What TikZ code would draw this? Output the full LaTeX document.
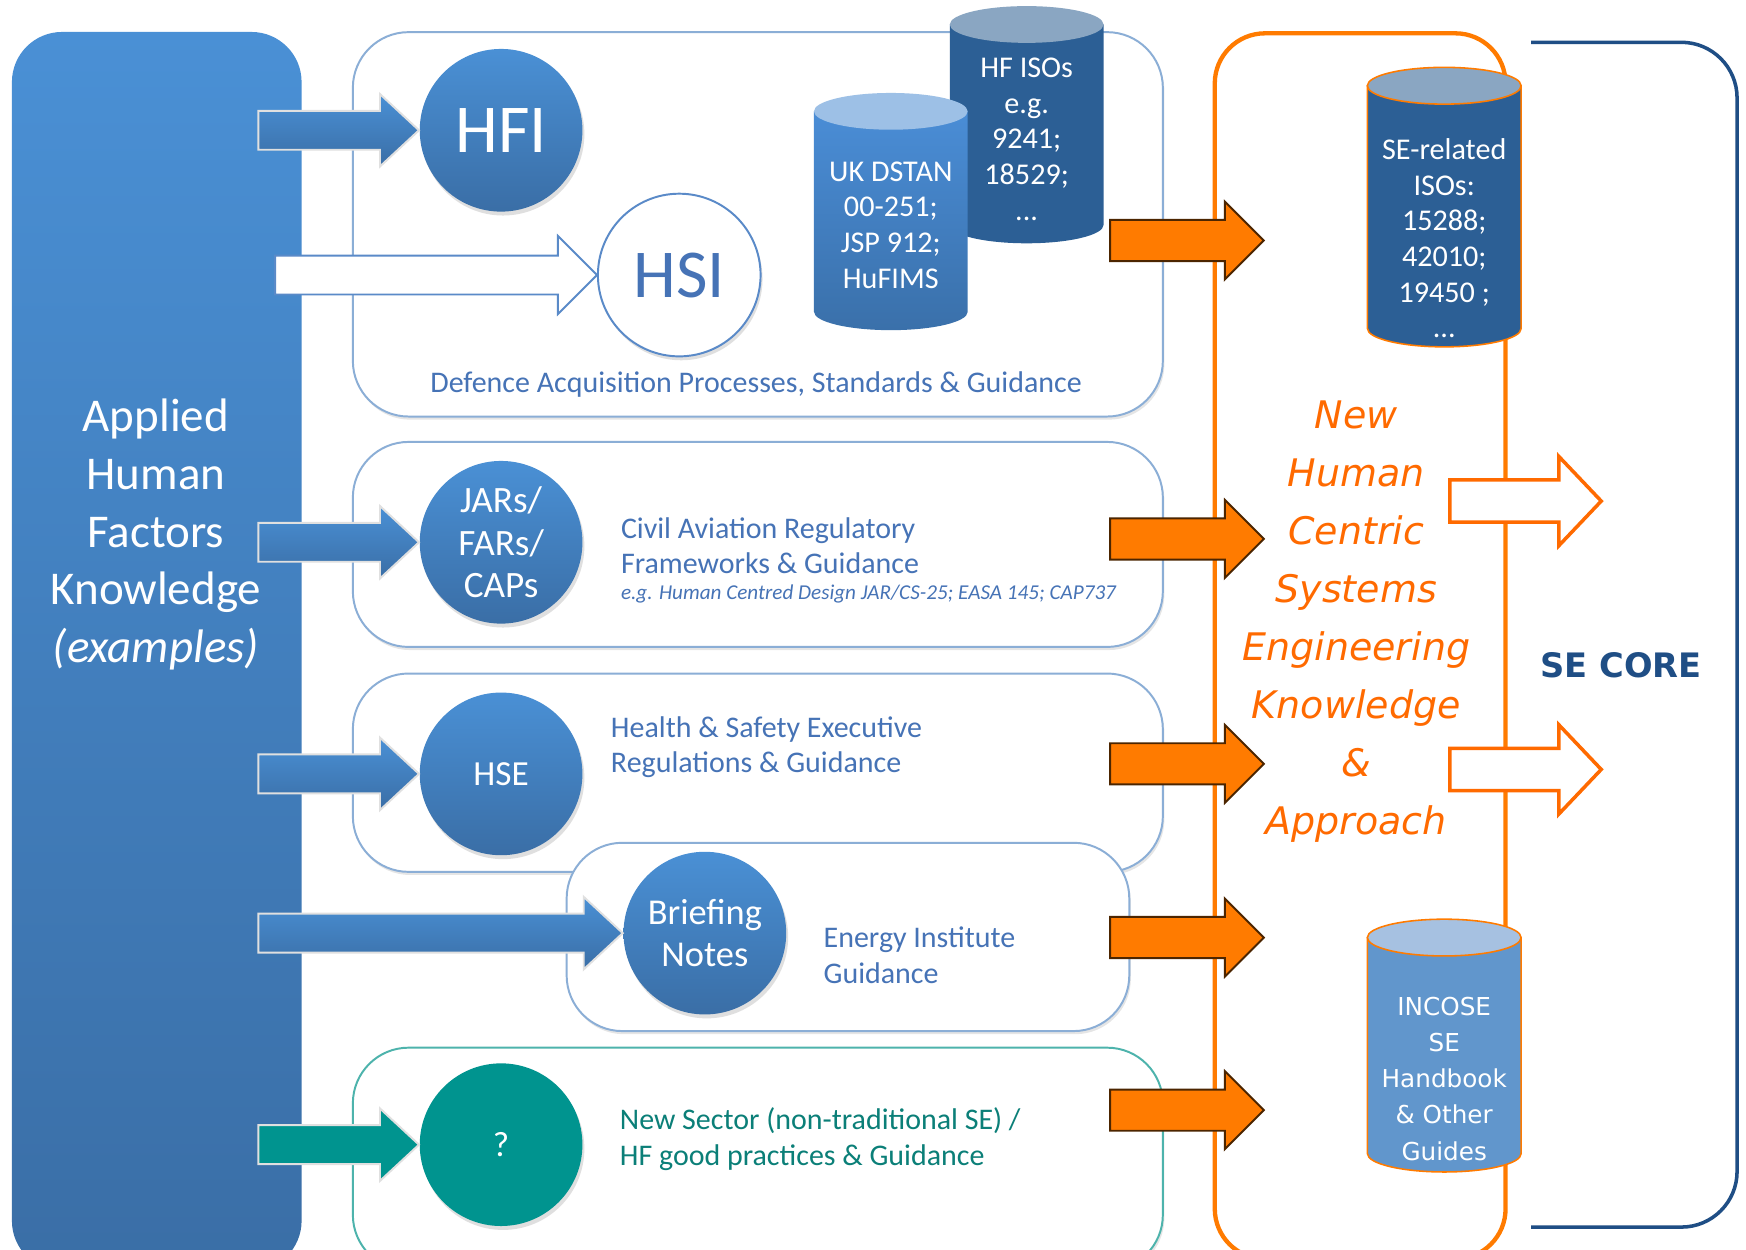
\documentclass[tikz,border=0pt]{standalone}
\usepackage{fontspec}
\setmainfont{Carlito}
\newfontfamily\verdfont[ItalicFont={DejaVu Sans Oblique},BoldFont={DejaVu Sans Bold}]{DejaVu Sans}
\usepackage{xcolor}
\usepackage{tikz}
\usetikzlibrary{calc}
\usetikzlibrary{shadows}

\definecolor{hfblue}{HTML}{4A90D5}
\definecolor{hfblued}{HTML}{3A6EA6}
\definecolor{labelblue}{HTML}{4673B6}
\definecolor{panelline}{HTML}{8BAED6}
\definecolor{hsiline}{HTML}{5A8AC8}
\definecolor{tealfill}{HTML}{00948F}
\definecolor{tealtext}{HTML}{0B7F78}
\definecolor{tealline}{HTML}{4DB3AC}
\definecolor{orfill}{HTML}{FF7B00}
\definecolor{ortext}{HTML}{FF6A00}
\definecolor{navy}{HTML}{1F4E85}
\definecolor{drumdark}{HTML}{2C5F95}
\definecolor{drumlid}{HTML}{8AA6C2}
\definecolor{drummid}{HTML}{4A8DD6}
\definecolor{drummidd}{HTML}{3A70AA}
\definecolor{drummidlid}{HTML}{9DC0E6}
\definecolor{drumlight}{HTML}{6196CC}
\definecolor{drumlightlid}{HTML}{A6C1E1}

% block arrow: style, tail, tip, half shaft, half head, head length
\newcommand{\blockarrow}[6]{%
  \path[#1] ($(#2|-#3)+(0,-#4)$) -- ($(#3)+(-#6,-#4)$) -- ($(#3)+(-#6,-#5)$) -- (#3)
    -- ($(#3)+(-#6,#5)$) -- ($(#3)+(-#6,#4)$) -- ($(#2|-#3)+(0,#4)$) -- cycle;}

% drum: x, top y, bottom y, body style, lid colour, border
\newcommand{\drum}[6]{%
  \path[#4, draw=#6, line width=0.4pt] (#1-69,#2) -- (#1-69,#3)
    arc[start angle=180, end angle=360, x radius=0.69cm, y radius=0.165cm] -- (#1+69,#2) -- cycle;
  \path[fill=#5, draw=#6, line width=0.4pt] (#1,#2) ellipse[x radius=0.69cm, y radius=0.165cm];}

\begin{document}
\begin{tikzpicture}[x=0.01cm, y=-0.01cm,
    panel/.style={rectangle, rounded corners=0.5cm, draw=panelline, line width=0.5pt, fill=white,
      drop shadow={shadow xshift=0.4pt, shadow yshift=-0.8pt, opacity=0.2}},
    bub/.style={circle, minimum size=1.46cm, inner sep=0pt, align=center, text=white,
      top color=hfblue, bottom color=hfblued,
      drop shadow={shadow xshift=0.5pt, shadow yshift=-1pt, opacity=0.25}},
    barrow/.style={top color=hfblue, bottom color=hfblued, draw=black!12, line width=0.5pt},
    oarrow/.style={fill=orfill, draw=black!70!orfill, line width=0.5pt},
    warrow/.style={fill=white, draw=ortext, line width=0.9pt},
    lbl/.style={text=labelblue, align=left, inner sep=0pt, font=\fontsize{7.65}{9.1}\selectfont},
    drumtext/.style={text=white, align=center, inner sep=0pt, font=\fontsize{7.7}{9.1}\selectfont}]

		\useasboundingbox (0,0) rectangle (1568,1122);
		\clip (0,0) rectangle (1568,1122);
		\fill[white] (0,0) rectangle (1568,1122);

		%knowledge column
		\node [rectangle, rounded corners=0.45cm, minimum width=2.6cm, minimum height=11.12cm, anchor=north west,
			top color=hfblue, bottom color=hfblued] (hfbox) at (10,28) {};

		%panels
		\node [panel, anchor=north west, minimum width=7.27cm, minimum height=3.45cm] (pdef) at (316,28) {};
		\node [panel, anchor=north west, minimum width=7.27cm, minimum height=1.84cm] (pciv) at (316,396) {};
		\node [panel, anchor=north west, minimum width=7.27cm, minimum height=1.78cm] (phse) at (316,604) {};
		\node [panel, anchor=north west, minimum width=5.05cm, minimum height=1.69cm] (pnrg) at (508,756) {};
		\node [panel, draw=tealline, anchor=north west, minimum width=7.27cm, minimum height=2.0cm] (pnew) at (316,940) {};

		%circles
		\coordinate (t1) at (232,0);
		\coordinate (t2) at (247,0);
		\node [bub, font=\fontsize{17.5}{20}\selectfont] (hfi) at (450,117) {HFI};
		\node [bub, top color=white, bottom color=white, draw=hsiline, line width=0.5pt, text=labelblue,
			font=\fontsize{17.5}{20}\selectfont] (hsi) at (610,247) {HSI};
		\node [bub, font=\fontsize{9.5}{10.8}\selectfont] (jar) at (450,487) {JARs/\\FARs/\\CAPs};
		\node [bub, font=\fontsize{9}{10.8}\selectfont] (hse) at (450,695) {HSE};
		\node [bub, font=\fontsize{9.3}{10.8}\selectfont] (brf) at (633,838) {Briefing\\Notes};
		\node [bub, top color=tealfill, bottom color=tealfill, font=\fontsize{9}{10.8}\selectfont] (que) at (450,1028) {?};

		\blockarrow{barrow}{t1}{hfi.west}{17.5}{32.5}{35}
		\blockarrow{fill=white, draw=hsiline, line width=0.5pt}{t2}{hsi.west}{17.5}{35}{35}
		\blockarrow{barrow}{t1}{jar.west}{17.5}{32.5}{35}
		\blockarrow{barrow}{t1}{hse.west}{17.5}{32.5}{35}
		\blockarrow{barrow}{t1}{brf.west}{17.5}{32.5}{35}
		\blockarrow{fill=tealfill, draw=black!12, line width=0.5pt}{t1}{que.west}{17.5}{32.5}{35}

		%standards drums
		\drum{922}{22}{202}{fill=drumdark}{drumlid}{none}
		\node [drumtext] (hfiso) at (922,125) {HF ISOs\\e.g.\\9241;\\18529;\\...};
		\drum{800}{100}{280}{top color=drummid, bottom color=drummidd}{drummidlid}{none}
		\node [drumtext] (dstan) at (800,202) {UK DSTAN\\00-251;\\JSP 912;\\HuFIMS};

		%human centric SE column
		\node [rectangle, rounded corners=0.45cm, draw=orfill, line width=1.1pt, minimum width=2.61cm,
			minimum height=11.0cm, anchor=north west] (hcbox) at (1089,28) {};
		\drum{1297}{77}{295}{fill=drumdark}{drumlid}{orfill}
		\node [drumtext] (seiso) at (1297,214) {SE-related\\ISOs:\\15288;\\42010;\\19450 ;\\...};
		\drum{1297}{842}{1036}{fill=drumlight}{drumlightlid}{orfill}
		\node [drumtext, font=\verdfont\fontsize{6.3}{9.2}\selectfont] (incose) at (1297,969) {INCOSE\\SE\\Handbook\\\& Other\\Guides};

		%orange arrows
		\coordinate (o1) at (997,216);  \coordinate (p1) at (1135,216);
		\coordinate (o2) at (997,484);  \coordinate (p2) at (1135,484);
		\coordinate (o3) at (997,686);  \coordinate (p3) at (1135,686);
		\coordinate (o4) at (997,842);  \coordinate (p4) at (1135,842);
		\coordinate (o5) at (997,997);  \coordinate (p5) at (1135,997);
		\blockarrow{oarrow}{o1}{p1}{18.5}{35}{35}
		\blockarrow{oarrow}{o2}{p2}{18.5}{35}{35}
		\blockarrow{oarrow}{o3}{p3}{18.5}{35}{35}
		\blockarrow{oarrow}{o4}{p4}{18.5}{35}{35}
		\blockarrow{oarrow}{o5}{p5}{18.5}{35}{35}

		\coordinate (w1) at (1302,450);  \coordinate (q1) at (1438,450);
		\coordinate (w2) at (1302,691);  \coordinate (q2) at (1438,691);
		\blockarrow{warrow}{w1}{q1}{19}{40}{38}
		\blockarrow{warrow}{w2}{q2}{19}{40}{38}

		%SE core
		\draw [navy, line width=0.9pt, rounded corners=0.5cm] (1375,38) -- (1560,38) -- (1560,1102) -- (1375,1102);
		\node [text=navy, inner sep=0pt, font=\verdfont\bfseries\fontsize{8.6}{10}\selectfont] (secore) at (1456,597) {SE CORE};

		%text
		\node [text=white, align=center, inner sep=0pt, font=\fontsize{12}{14.8}\selectfont] (hfk) at (140,480)
			{Applied\\Human\\Factors\\Knowledge\\\textit{(examples)}};
		\node [lbl] (ldef) at (679,345) {Defence Acquisition Processes, Standards \& Guidance};
		\node [lbl, anchor=west] (lciv) at (557,490) {Civil Aviation Regulatory\\Frameworks \& Guidance};
		\node [lbl, anchor=west, font=\itshape\fontsize{5.4}{6.5}\selectfont] (leg) at (557,533)
			{e.g. Human Centred Design JAR/CS-25; EASA 145; CAP737};
		\node [lbl, anchor=west] (lhse) at (548,671) {Health \& Safety Executive\\Regulations \& Guidance};
		\node [lbl, anchor=west] (lnrg) at (739,858) {Energy Institute\\Guidance};
		\node [lbl, anchor=west, text=tealtext] (lnew) at (556,1023) {New Sector (non-traditional SE) /\\HF good practices \& Guidance};
		\node [text=ortext, align=center, inner sep=0pt, font=\verdfont\itshape\fontsize{9.7}{14.8}\selectfont] (hcse) at (1218,558)
			{New\\Human\\Centric\\Systems\\Engineering\\Knowledge\\\&\\Approach};
\end{tikzpicture}
\end{document}
